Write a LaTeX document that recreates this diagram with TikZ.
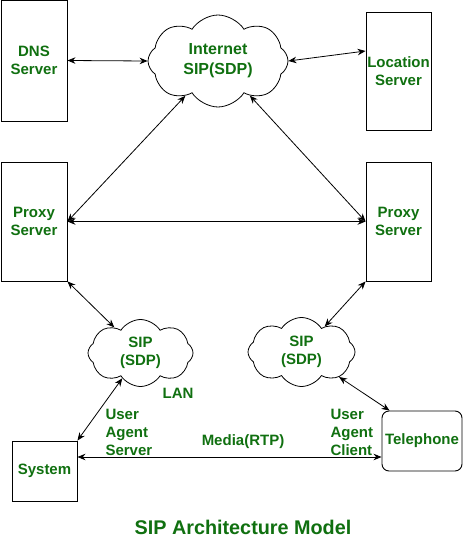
\documentclass[tikz,border=0pt]{standalone}
\usepackage{fontspec}
\setmainfont{Liberation Sans}
\usetikzlibrary{shapes.symbols,arrows.meta}
\definecolor{txtgreen}{RGB}{16,112,16}
\tikzset{
  lbl/.style={text=txtgreen, font=\bfseries\fontsize{15}{18}\selectfont, align=center},
  box/.style={draw, line width=0.9pt, rectangle, inner sep=0pt, lbl},
  sipcloud/.style={draw, cloud, cloud puffs=8, cloud puff arc=115, cloud ignores aspect, inner sep=0pt, line width=0.8pt, lbl},
  link/.style={{Stealth[length=8pt,width=6.5pt]}-{Stealth[length=8pt,width=6.5pt]}, line width=0.8pt},
}
\begin{document}
\begin{tikzpicture}[x=1pt,y=-1pt]
\useasboundingbox (0,0) rectangle (463,546);
% servers
\node[box, minimum width=66pt, minimum height=121pt] (dns) at (34,60.5) {DNS\\Server};
\node[box, minimum width=65pt, minimum height=118pt] (loc) at (398.5,71) {Location\\Server};
\node[box, minimum width=66pt, minimum height=119pt] (pl) at (34,221.5) {Proxy\\Server};
\node[box, minimum width=65pt, minimum height=119pt] (pr) at (398.5,221.5) {Proxy\\Server};
\node[box, minimum width=65pt, minimum height=60pt] (sys) at (44.5,471) {System};
\node[box, rounded corners=7pt, minimum width=80pt, minimum height=60pt] (tel) at (422,441) {Telephone};
% clouds
\node[sipcloud, minimum width=140pt, minimum height=92pt, font=\bfseries\fontsize{16}{20}\selectfont] (inet) at (218,61) {Internet\\SIP(SDP)};
\node[sipcloud, minimum width=105pt, minimum height=67pt] (cl) at (140.5,353) {SIP\\(SDP)};
\node[sipcloud, minimum width=107pt, minimum height=69pt] (cr) at (301.5,352) {SIP\\(SDP)};
% labels
\node[lbl] (lan) at (178,393) {LAN};
\node[lbl, align=left, anchor=west] (uas) at (102,432) {User\\Agent\\Server};
\node[lbl, align=left, anchor=west] (uac) at (327,432) {User\\Agent\\Client};
\node[lbl] (media) at (243,442) {Media(RTP)};
\node[text=txtgreen, font=\bfseries\fontsize{19.8}{24}\selectfont] (title) at (243,527) {SIP Architecture Model};
% connectors
\draw[link] (dns.east) -- (inet.west);
\draw[link] (inet.east) -- ([yshift=20pt]loc.west);
\draw[link] (pl.east) -- (inet);
\draw[link] (pr.west) -- (inet);
\draw[link] (pl.east) -- (pr.west);
\draw[link] (pl.south east) -- (cl);
\draw[link] (pr.south west) -- (cr);
\draw[link] (cl) -- (sys.north east);
\draw[link] (cr) -- ([xshift=8pt]tel.north west);
\draw[link] ([yshift=14pt]sys.east) -- ([yshift=-16pt]tel.west);
\end{tikzpicture}
\end{document}
